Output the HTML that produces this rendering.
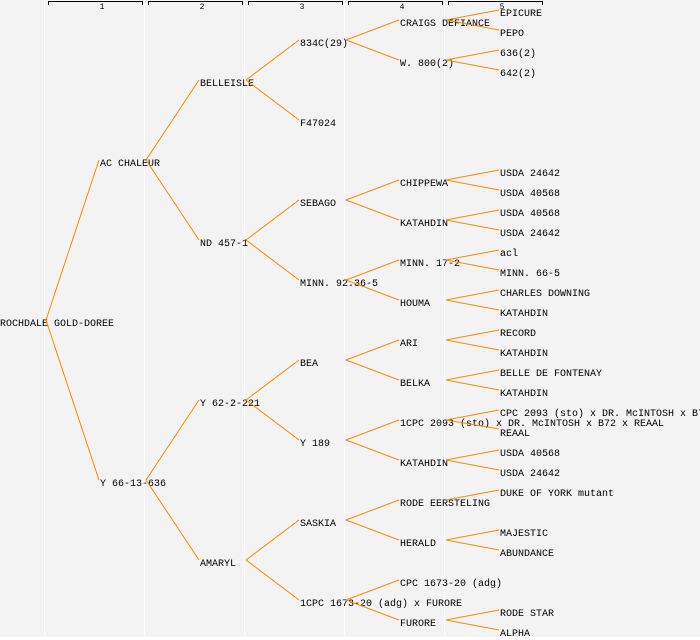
<!DOCTYPE html>
<html><head><meta charset="utf-8"><style>
html,body{margin:0;padding:0;background:#f3f3f3;}
svg{display:block}
text{font-family:"Liberation Mono",monospace;font-size:10px;fill:#000;}
.h{font-size:8px;}
</style></head><body>
<svg width="700" height="640" viewBox="0 0 700 640" xmlns="http://www.w3.org/2000/svg">
<rect x="0" y="0" width="700" height="637" fill="#f3f3f3"/>
<rect x="0" y="637" width="700" height="3" fill="#ffffff"/>
<g fill="#ffffff">
<rect x="44" y="0" width="1" height="637"/><rect x="144" y="0" width="1" height="637"/><rect x="244" y="0" width="1" height="637"/><rect x="344" y="0" width="1" height="637"/><rect x="444" y="0" width="1" height="637"/>
</g>
<g stroke="#000" fill="none" stroke-width="1">
<path d="M48.5 5V1.5H142.5V5"/><path d="M148.5 5V1.5H242.5V5"/><path d="M248.5 5V1.5H342.5V5"/><path d="M348.5 5V1.5H442.5V5"/><path d="M448.5 5V1.5H542.5V5"/>
</g>
<g class="h" text-anchor="middle">
<text class="h" x="102" y="9">1</text><text class="h" x="202" y="9">2</text><text class="h" x="302" y="9">3</text><text class="h" x="402" y="9">4</text><text class="h" x="502" y="9">5</text>
</g>
<g>
<text x="0" y="326">ROCHDALE GOLD-DOREE</text>
<text x="100" y="166">AC CHALEUR</text>
<text x="100" y="486">Y 66-13-636</text>
<text x="200" y="86">BELLEISLE</text>
<text x="200" y="246">ND 457-1</text>
<text x="200" y="406">Y 62-2-221</text>
<text x="200" y="566">AMARYL</text>
<text x="300" y="46">834C(29)</text>
<text x="300" y="126">F47024</text>
<text x="300" y="206">SEBAGO</text>
<text x="300" y="286">MINN. 92.36-5</text>
<text x="300" y="366">BEA</text>
<text x="300" y="446">Y 189</text>
<text x="300" y="526">SASKIA</text>
<text x="300" y="606">1CPC 1673-20 (adg) x FURORE</text>
<text x="400" y="26">CRAIGS DEFIANCE</text>
<text x="400" y="66">W. 800(2)</text>
<text x="400" y="186">CHIPPEWA</text>
<text x="400" y="226">KATAHDIN</text>
<text x="400" y="266">MINN. 17-2</text>
<text x="400" y="306">HOUMA</text>
<text x="400" y="346">ARI</text>
<text x="400" y="386">BELKA</text>
<text x="400" y="426">1CPC 2093 (sto) x DR. McINTOSH x B72 x REAAL</text>
<text x="400" y="466">KATAHDIN</text>
<text x="400" y="506">RODE EERSTELING</text>
<text x="400" y="546">HERALD</text>
<text x="400" y="586">CPC 1673-20 (adg)</text>
<text x="400" y="626">FURORE</text>
<text x="500" y="16">EPICURE</text>
<text x="500" y="36">PEPO</text>
<text x="500" y="56">636(2)</text>
<text x="500" y="76">642(2)</text>
<text x="500" y="176">USDA 24642</text>
<text x="500" y="196">USDA 40568</text>
<text x="500" y="216">USDA 40568</text>
<text x="500" y="236">USDA 24642</text>
<text x="500" y="256">acl</text>
<text x="500" y="276">MINN. 66-5</text>
<text x="500" y="296">CHARLES DOWNING</text>
<text x="500" y="316">KATAHDIN</text>
<text x="500" y="336">RECORD</text>
<text x="500" y="356">KATAHDIN</text>
<text x="500" y="376">BELLE DE FONTENAY</text>
<text x="500" y="396">KATAHDIN</text>
<text x="500" y="416">CPC 2093 (sto) x DR. McINTOSH x B72</text>
<text x="500" y="436">REAAL</text>
<text x="500" y="456">USDA 40568</text>
<text x="500" y="476">USDA 24642</text>
<text x="500" y="496">DUKE OF YORK mutant</text>
<text x="500" y="536">MAJESTIC</text>
<text x="500" y="556">ABUNDANCE</text>
<text x="500" y="616">RODE STAR</text>
<text x="500" y="636">ALPHA</text>
</g>
<g stroke="#ff8800" stroke-width="1" fill="none">
<path d="M46 320L99 160M46 320L99 480"/>
<path d="M146 160L199 80M146 160L199 240M146 480L199 400M146 480L199 560"/>
<path d="M246 80L299 40M246 80L299 120M246 240L299 200M246 240L299 280M246 400L299 360M246 400L299 440M246 560L299 520M246 560L299 600"/>
<path d="M346 40L399 20M346 40L399 60M346 200L399 180M346 200L399 220M346 280L399 260M346 280L399 300M346 360L399 340M346 360L399 380M346 440L399 420M346 440L399 460M346 520L399 500M346 520L399 540M346 600L399 580M346 600L399 620"/>
<path d="M446 20L499 10M446 20L499 30M446 60L499 50M446 60L499 70M446 180L499 170M446 180L499 190M446 220L499 210M446 220L499 230M446 260L499 250M446 260L499 270M446 300L499 290M446 300L499 310M446 340L499 330M446 340L499 350M446 380L499 370M446 380L499 390M446 420L499 410M446 420L499 429M446 460L499 450M446 460L499 470M446 500L499 490M446 540L499 530M446 540L499 550M446 620L499 610M446 620L499 630"/>
</g>
</svg>
</body></html>
